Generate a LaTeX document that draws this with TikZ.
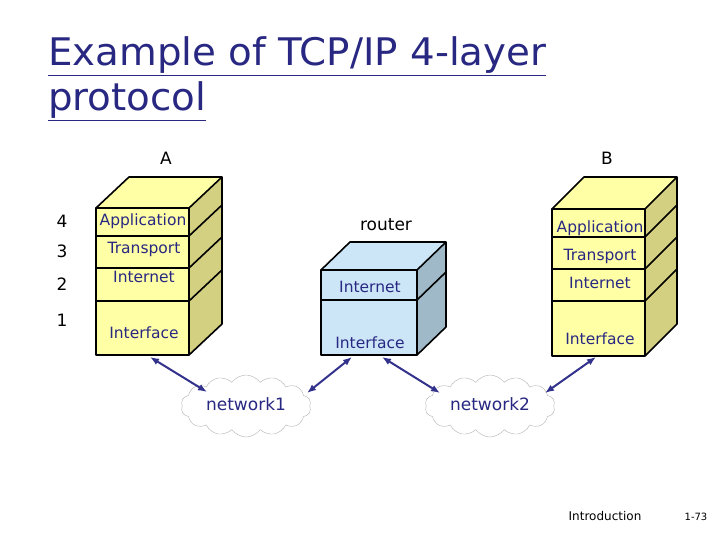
\documentclass[tikz,border=0pt]{standalone}
\usepackage{fontspec}
\setmainfont{DejaVu Sans}
\usetikzlibrary{shapes.symbols,arrows.meta}
\definecolor{yfront}{RGB}{255,255,165}
\definecolor{yside}{RGB}{212,208,130}
\definecolor{bfront}{RGB}{204,230,248}
\definecolor{bside}{RGB}{160,185,200}
\definecolor{ink}{RGB}{40,40,130}
\definecolor{arr}{RGB}{50,50,140}
\tikzset{
  edge/.style={draw=black,line width=1.6pt,line join=round},
  lay/.style={text=ink,font=\fontsize{15.5}{15.5}\selectfont,inner sep=0pt},
  lbl/.style={font=\fontsize{17}{17}\selectfont,inner sep=0pt},
  ttl/.style={anchor=base west,inner sep=0pt,text=ink,font=\fontsize{38}{38}\selectfont,xscale=1.02},
  cl/.style={cloud,cloud puffs=14,cloud puff arc=110,draw=gray!60,fill=white,minimum width=130pt,minimum height=62pt,aspect=2.2},
  link/.style={arr,line width=2pt,{Latex[length=9pt,width=7pt]}-{Latex[length=9pt,width=7pt]}}
}
\newcommand{\mycube}[9]{% x1 y1 x2 y2 dx dy front side top
  \fill[#7] (#1,#2) rectangle (#3,#4);
  \fill[#8] (#3,#2) -- ++(#5,-#6) -- ++(0,#4-#2) -- (#3,#4) -- cycle;
  \fill[#9] (#1,#2) -- ++(#5,-#6) -- ++(#3-#1,0) -- (#3,#2) -- cycle;
  \draw[edge] (#1,#2) rectangle (#3,#4);
  \draw[edge] (#1,#2) -- ++(#5,-#6) -- ++(#3-#1,0) -- (#3,#2);
  \draw[edge] (#3+#5,#2-#6) -- ++(0,#4-#2) -- (#3,#4);
}
\begin{document}
\begin{tikzpicture}[x=1pt,y=-1pt]
\useasboundingbox (0,0) rectangle (720,540);
% title
\node[ttl] (t1) at (48,66) {\underline{Example of TCP/IP 4-layer}};
\node[ttl] (t2) at (48,111) {\underline{protocol}};
\node[lbl] (A) at (166,158) {A};
\node[lbl] (B) at (607,158) {B};
\node[lbl] (rt) at (386,225) {router};
% host A
\mycube{96}{208}{189}{355}{33}{31}{yfront}{yside}{yfront}
\foreach \y in {236,268,301}{\draw[edge] (96,\y) -- (189,\y) -- ++(33,-31);}
\node[lay] (a4) at (143,221) {Application};
\node[lay] (a3) at (144,249) {Transport};
\node[lay] (a2) at (144,277) {Internet};
\node[lay] (a1) at (144,333) {Interface};
\node[lbl] (n4) at (62,221) {4};
\node[lbl] (n3) at (62,251) {3};
\node[lbl] (n2) at (62,284) {2};
\node[lbl] (n1) at (62,320) {1};
% router
\mycube{321}{270}{417}{355}{29}{28}{bfront}{bside}{bfront}
\draw[edge] (321,300) -- (417,300) -- ++(29,-28);
\node[lay] (r2) at (370,287) {Internet};
\node[lay] (r1) at (370,343) {Interface};
% host B
\mycube{552}{209}{645}{356}{32}{32}{yfront}{yside}{yfront}
\foreach \y in {237,269,301}{\draw[edge] (552,\y) -- (645,\y) -- ++(32,-32);}
\node[lay] (b4) at (600,228) {Application};
\node[lay] (b3) at (600,256) {Transport};
\node[lay] (b2) at (600,283) {Internet};
\node[lay] (b1) at (600,339) {Interface};
% clouds
\node[cl] (net1) at (246,406) {};
\node[lay,font=\fontsize{17}{17}\selectfont] at (246,404) {network1};
\node[cl] (net2) at (490,406) {};
\node[lay,font=\fontsize{17}{17}\selectfont] at (490,404) {network2};
% links
\coordinate (pa) at (150,357); \coordinate (qa) at (207,392);
\coordinate (pr1) at (352,357); \coordinate (qr1) at (307,393);
\coordinate (pr2) at (382,357); \coordinate (qr2) at (440,393);
\coordinate (pb) at (596,357); \coordinate (qb) at (545,393);
\draw[link] (pa) -- (qa);
\draw[link] (pr1) -- (qr1);
\draw[link] (pr2) -- (qr2);
\draw[link] (pb) -- (qb);
% footer
\node[anchor=base,inner sep=0pt,font=\fontsize{12}{12}\selectfont] (ft) at (605,520) {Introduction};
\node[anchor=base,inner sep=0pt,font=\fontsize{10}{10}\selectfont] (pg) at (696,520) {1-73};
\end{tikzpicture}
\end{document}
